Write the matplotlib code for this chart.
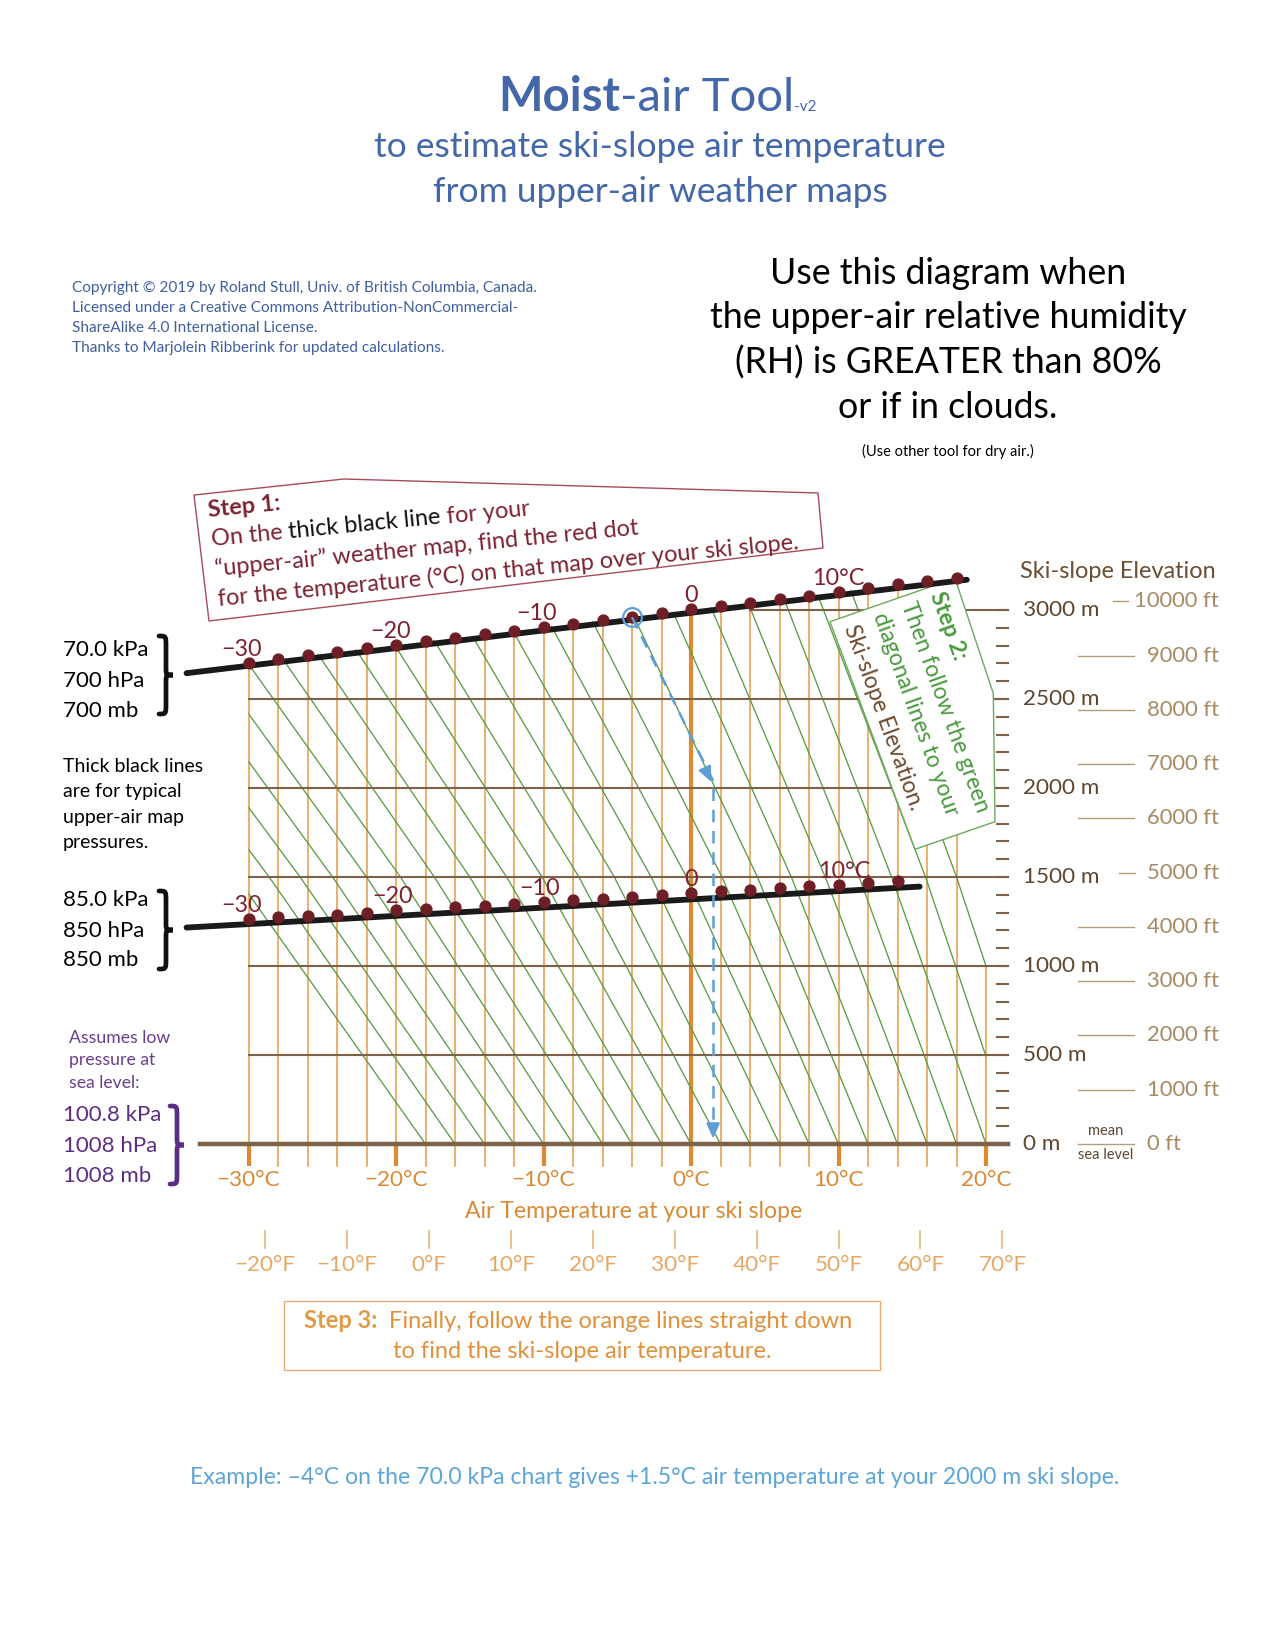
import numpy as np
import matplotlib
matplotlib.use("Agg")
import matplotlib.pyplot as plt
from matplotlib.patches import Polygon, PathPatch
from matplotlib.path import Path

plt.rcParams['font.family'] = ['Lato', 'DejaVu Sans']

W, H = 1275, 1650

# ---- data ----
# red dots on the 70 kPa line: temperature (degC) and elevation (m)
dot70_T = list(range(-30, 19, 2))
dot70_z = [2704, 2726, 2746, 2764, 2787, 2803, 2824, 2844, 2863, 2884, 2904, 2921, 2944,
           2959, 2981, 3004, 3021, 3041, 3060, 3080, 3103, 3121, 3144, 3165, 3181]
line70_T = [-34.2, 18.7]
line70_z = [2645, 3170]

# red dots on the 85 kPa line
dot85_T = list(range(-30, 15, 2))
dot85_z = [1264, 1274, 1281, 1288, 1299, 1313, 1320, 1330, 1339, 1348, 1361, 1371, 1378,
           1388, 1397, 1408, 1420, 1429, 1438, 1448, 1457, 1468, 1478]
line85_T = [-34.2, 15.5]
line85_z = [1216, 1446]

# green moist-adiabat lines: temperature at 0 m, 1500 m and 3300 m
green_z = [0, 1500, 3300]
green_T0 = [-18, -16, -14, -12, -10, -8, -6, -4, -2, 0, 2, 4, 6, 8, 10, 12, 14, 16, 18, 20, 22, 24]
green_T1500 = [-30.8, -28.6, -26.5, -24.3, -22.0, -19.7, -17.4, -15.0, -12.5, -10.1, -7.6,
               -5.2, -2.7, -0.3, 2.1, 4.5, 6.8, 9.1, 11.4, 13.6, 15.9, 18.0]
green_T3300 = [-47.0, -44.8, -42.6, -40.1, -37.7, -35.2, -32.5, -29.8, -26.9, -23.9, -20.9,
               -18.0, -14.9, -12.0, -8.9, -5.8, -2.9, -0.1, 2.6, 5.2, 7.6, 10.0]

# orange vertical lines (every 2 degC) and their upper ends (m)
orange_T = list(range(-30, 21, 2))
orange_top = dot70_z + [1000]

# elevation grid
elev_lines = [500, 1000, 1500, 2000, 2500, 3000]
elev_start_T = [-30, -30, -30, -30, -30, 4]
elev_labels = [0, 500, 1000, 1500, 2000, 2500, 3000]
ft_levels = [0, 1000, 2000, 3000, 4000, 5000, 6000, 7000, 8000, 9000, 10000]

degC_ticks = [-30, -20, -10, 0, 10, 20]
degF_ticks = [-20, -10, 0, 10, 20, 30, 40, 50, 60, 70]

lab70_T = [-30, -20, -10, 0, 10]
lab70_txt = ['\u221230', '\u221220', '\u221210', '0', '10\u00b0C']
lab70_dx = [-0.5, -0.4, -0.5, 0, 0]
lab85_dx = [-0.5, -0.2, -0.3, 0, 0.4]

# worked example
ex_T70, ex_z70 = -4, 2959
ex_T, ex_z = 1.5, 2000

# ---- colours ----
orange = '#E8A255'
orange_dk = '#DE8A30'
green = '#5A9C48'
brown = '#7D6148'
dotred = '#6E1F26'
labred = '#7C2231'
blue = '#5C9FD6'
title_blue = '#4367A8'

# pixel layout of the chart axes (x = 691 + 14.75*T, y = 1144 - 0.178*z)
def T_of(px):
    return (px - 691) / 14.75

def z_of(py):
    return (1144 - py) / 0.178

def fx(x):
    return x / W

def fy(y):
    return 1 - y / H

fig = plt.figure(figsize=(W / 100, H / 100), dpi=100)
ax = fig.add_axes([fx(150), fy(1250), 1080 / W, 810 / H])
ax.set_xlim(T_of(150), T_of(1230))
ax.set_ylim(z_of(1250), z_of(440))
ax.axis('off')

tick_bot = z_of(1166)

# orange verticals
for T, top in zip(orange_T, orange_top):
    if T == 0:
        ax.plot([T, T], [tick_bot, top], color=orange_dk, lw=3.0, zorder=2, solid_capstyle='butt')
        continue
    ax.plot([T, T], [0, top], color=orange, lw=1.2, zorder=2)
    if T % 10 == 0:
        ax.plot([T, T], [tick_bot, 0], color=orange_dk, lw=3.0, zorder=2, solid_capstyle='butt')
    else:
        ax.plot([T, T], [tick_bot, 0], color=orange, lw=1.2, zorder=2)

# brown elevation lines and right-hand ticks
for z, t0 in zip(elev_lines, elev_start_T):
    ax.plot([t0, T_of(1008)], [z, z], color=brown, lw=1.5, zorder=3)
ax.plot([T_of(200), T_of(1008)], [0, 0], color=brown, lw=3.2, zorder=3)
for z in range(0, 3001, 100):
    ax.plot([T_of(997), T_of(1008)], [z, z], color=brown, lw=1.5, zorder=3)

# clip region for green lines
clip_xy = [(-30, 0), (-30, dot70_z[0])] + list(zip(dot70_T, dot70_z)) + [(20, 3300), (20, 0)]
clip_poly = Polygon(clip_xy, closed=True, facecolor='none', edgecolor='none')
ax.add_patch(clip_poly)
for a, b, c in zip(green_T0, green_T1500, green_T3300):
    ln, = ax.plot([a, b, c], green_z, color=green, lw=0.95, zorder=2.5)
    ln.set_clip_path(clip_poly)

# thick pressure lines + dots
ax.plot(line70_T, line70_z, color='#1A1A1A', lw=4.2, solid_capstyle='round', zorder=6)
ax.plot(line85_T, line85_z, color='#1A1A1A', lw=4.2, solid_capstyle='round', zorder=6)
ax.plot(dot70_T, dot70_z, 'o', color=dotred, ms=7.8, zorder=7)
ax.plot(dot85_T, dot85_z, 'o', color=dotred, ms=7.8, zorder=7)

for T, s, dx in zip(lab70_T, lab70_txt, lab70_dx):
    z = dot70_z[dot70_T.index(T)]
    ax.annotate(s, (T + dx, z), xytext=(0, 5), textcoords='offset points', ha='center',
                va='baseline', fontsize=16.8, color=labred, zorder=8)
for T, s, dx in zip(lab70_T, lab70_txt, lab85_dx):
    z = dot85_z[dot85_T.index(T)]
    ax.annotate(s, (T + dx, z), xytext=(0, 5), textcoords='offset points', ha='center',
                va='baseline', fontsize=16.8, color=labred, zorder=8)

# worked example (blue)
ax.plot([ex_T70], [ex_z70], 'o', mfc='none', mec=blue, ms=13.5, mew=1.6, zorder=9)
ax.plot([ex_T70, ex_T], [ex_z70, ex_z + 40], color=blue, lw=1.8, ls=(0, (5, 3.5)), zorder=9)
ax.annotate('', xy=(ex_T - 0.05, ex_z + 20), xytext=(ex_T - 0.55, ex_z + 110),
            arrowprops=dict(arrowstyle='-|>,head_length=0.9,head_width=0.4', color=blue, lw=1.6),
            zorder=9)
ax.plot([ex_T, ex_T], [ex_z, 60], color=blue, lw=1.8, ls=(0, (5, 3.5)), zorder=9)
ax.annotate('', xy=(ex_T, 15), xytext=(ex_T, 110),
            arrowprops=dict(arrowstyle='-|>,head_length=0.9,head_width=0.4', color=blue, lw=1.6),
            zorder=9)

# bottom temperature scales
for T in degC_ticks:
    s = ('\u2212%d\u00b0C' % -T) if T < 0 else ('%d\u00b0C' % T)
    ax.text(T, z_of(1180), s, ha='center', va='center', fontsize=16.2, color='#D98A35')
for F in degF_ticks:
    T = (F - 32) * 5 / 9
    ax.plot([T, T], [z_of(1231), z_of(1248)], color='#EDBB85', lw=1.3)
    s = ('\u2212%d\u00b0F' % -F) if F < 0 else ('%d\u00b0F' % F)
    ax.text(T, z_of(1265), s, ha='center', va='center', fontsize=16.2, color='#E6A866')

# right-hand elevation scales
for z in elev_labels:
    ax.text(T_of(1023), z, '%d m' % z, ha='left', va='center', fontsize=16.2, color='#5F4630')
for ft in ft_levels:
    z = ft * 0.3048
    if ft == 10000:
        x0, x1, xt = 1113, 1128, 1134
    elif ft == 5000:
        x0, x1, xt = 1119, 1135, 1147
    else:
        x0, x1, xt = 1078, 1134, 1147
    ax.plot([T_of(x0), T_of(x1)], [z, z], color='#B59C7C', lw=1.0)
    ax.text(T_of(xt), z, '%d ft' % ft, ha='left', va='center', fontsize=15.8, color='#A88A62')
ax.text(T_of(1106), 35, 'mean', ha='center', va='bottom', fontsize=10.5, color='#5F4630')
ax.text(T_of(1106), -25, 'sea level', ha='center', va='top', fontsize=10.5, color='#5F4630')

# ---- boxes ----
step1_box = Polygon([(fx(194), fy(495)), (fx(344), fy(479)), (fx(818), fy(493)),
                     (fx(823), fy(548)), (fx(209), fy(621))], closed=True,
                    transform=fig.transFigure, facecolor='white', edgecolor='#A84C5C', lw=1.0, zorder=10)
fig.patches.append(step1_box)
step2_xy = [(830, 621.7), (955, 578.3), (993.3, 693.3), (995, 821.7), (915, 849.3)]
step2_box = Polygon([(T_of(x), z_of(y)) for x, y in step2_xy], closed=True, facecolor='white',
                    edgecolor='#6BAA5A', lw=1.0, zorder=5)
ax.add_patch(step2_box)
step3_box = Polygon([(fx(284), fy(1301)), (fx(880), fy(1301)), (fx(880), fy(1370)), (fx(284), fy(1370))],
                    closed=True, transform=fig.transFigure, facecolor='white', edgecolor='#E6AE70', lw=1.0)
fig.patches.append(step3_box)

renderer = fig.canvas.get_renderer()


def rich(x, y, parts, angle=0, va='baseline', z=12):
    a = np.deg2rad(angle)
    off = 0.0
    for txt, col, size, wt in parts:
        fig.text(fx(x + off * np.cos(a)), fy(y - off * np.sin(a)), txt, color=col, fontsize=size,
                 fontweight=wt, rotation=angle, rotation_mode='anchor', ha='left', va=va, zorder=z)
        tmp = fig.text(0, 0, txt, fontsize=size, fontweight=wt)
        off += tmp.get_window_extent(renderer).width
        tmp.remove()


def brace(x, y0, y1, w, col):
    xm, xr, yc, h = x + w * 0.5, x + w, (y0 + y1) / 2, y1 - y0
    pts = [(x, y0), (xm, y0), (xm, y0), (xm, y0 + h * 0.14), (xm, yc - h * 0.1),
           (xm, yc), (xm, yc), (xr, yc), (xm, yc), (xm, yc), (xm, yc + h * 0.1),
           (xm, y1 - h * 0.14), (xm, y1), (xm, y1), (x, y1)]
    codes = [Path.MOVETO, Path.CURVE4, Path.CURVE4, Path.CURVE4, Path.LINETO,
             Path.CURVE4, Path.CURVE4, Path.CURVE4, Path.CURVE4, Path.CURVE4, Path.CURVE4,
             Path.LINETO, Path.CURVE4, Path.CURVE4, Path.CURVE4]
    p = Path([(fx(px), fy(py)) for px, py in pts], codes)
    fig.patches.append(PathPatch(p, transform=fig.transFigure, facecolor='none', edgecolor=col,
                                 lw=3.4, capstyle='round'))


# ---- header ----
rich(498, 111, [('Moist', title_blue, 34, 'bold'), ('-air Tool', title_blue, 34, 'normal'),
                ('-v2', title_blue, 11, 'normal')])
fig.text(fx(660), fy(147), 'to estimate ski-slope air temperature', ha='center', va='center',
         fontsize=25.5, color=title_blue)
fig.text(fx(660), fy(192), 'from upper-air weather maps', ha='center', va='center',
         fontsize=25.5, color=title_blue)

for i, s in enumerate(['Copyright \u00a9 2019 by Roland Stull, Univ. of British Columbia, Canada.',
                       'Licensed under a Creative Commons Attribution-NonCommercial-',
                       'ShareAlike 4.0 International License.',
                       'Thanks to Marjolein Ribberink for updated calculations.']):
    fig.text(fx(72), fy(288 + 20 * i), s, ha='left', va='center', fontsize=11.1, color='#3F5FA0')

for s, y in zip(['Use this diagram when', 'the upper-air relative humidity',
                 '(RH) is GREATER than 80%', 'or if in clouds.'], [273, 318, 363, 407]):
    fig.text(fx(948), fy(y), s, ha='center', va='center', fontsize=25.7, color='black')
fig.text(fx(948), fy(451), '(Use other tool for dry air.)', ha='center', va='center', fontsize=10.5,
         color='black')

# ---- step 1 ----
ang1 = 5.6
fs1 = 16.9
rich(209, 517, [('Step 1:', labred, fs1, 'bold')], angle=ang1)
rich(212, 546, [('On the', labred, fs1, 'normal'), (' thick black line', '#111111', fs1, 'normal'),
                (' for your', labred, fs1, 'normal')], angle=ang1)
rich(216, 576, [('\u201cupper-air\u201d weather map, find the red dot', labred, fs1, 'normal')], angle=ang1)
rich(219, 606, [('for the temperature (\u00b0C) on that map over your ski slope.', labred, fs1, 'normal')],
     angle=ang1)

# ---- step 2 ----
ang2 = -70
fs2 = 16.5
rich(936, 592, [('Step 2:', '#4A9A3E', fs2, 'bold')], angle=ang2, va='center')
rich(907, 602, [('Then follow the green', '#4A9A3E', fs2, 'normal')], angle=ang2, va='center')
rich(879, 613, [('diagonal lines to your', '#4A9A3E', fs2, 'normal')], angle=ang2, va='center')
rich(850, 625, [('Ski-slope Elevation.', '#6B4A30', fs2, 'normal')], angle=ang2, va='center')

# ---- step 3 ----
fs3 = 17
rich(304, 1328, [('Step 3:', '#E39A45', fs3, 'bold'),
                 ('  Finally, follow the orange lines straight down', '#E0913A', fs3, 'normal')])
fig.text(fx(582), fy(1351), 'to find the ski-slope air temperature.', ha='center', va='center',
         fontsize=fs3, color='#E0913A')

fig.text(fx(634), fy(1211), 'Air Temperature at your ski slope', ha='center', va='center',
         fontsize=16.6, color='#D98A35')
fig.text(fx(1020), fy(571), 'Ski-slope Elevation', ha='left', va='center', fontsize=16.9, color='#6B4E33')

# ---- left-hand labels ----
for s, y in zip(['70.0 kPa', '700 hPa', '700 mb'], [650, 681, 711]):
    fig.text(fx(63), fy(y), s, ha='left', va='center', fontsize=16, color='black')
brace(159, 636, 714, 14, '#111111')
for s, y in zip(['Thick black lines', 'are for typical', 'upper-air map', 'pressures.'],
                [767, 792, 817, 843]):
    fig.text(fx(63), fy(y), s, ha='left', va='center', fontsize=14, color='black')
for s, y in zip(['85.0 kPa', '850 hPa', '850 mb'], [900, 931, 960]):
    fig.text(fx(63), fy(y), s, ha='left', va='center', fontsize=16, color='black')
brace(159, 891, 969, 14, '#111111')
for s, y in zip(['Assumes low', 'pressure at', 'sea level:'], [1038, 1060, 1083]):
    fig.text(fx(69), fy(y), s, ha='left', va='center', fontsize=12.7, color='#6A3D8F')
for s, y in zip(['100.8 kPa', '1008 hPa', '1008 mb'], [1115, 1146, 1176]):
    fig.text(fx(63), fy(y), s, ha='left', va='center', fontsize=16, color='#5C2D82')
brace(170, 1106, 1184, 14, '#5C2D82')

fig.text(fx(655), fy(1478), 'Example: \u20134\u00b0C on the 70.0 kPa chart gives +1.5\u00b0C air '
         'temperature at your 2000 m ski slope.', ha='center', va='center', fontsize=16.6, color='#5DA5D8')

fig.savefig('out.png', dpi=100, facecolor='white')
